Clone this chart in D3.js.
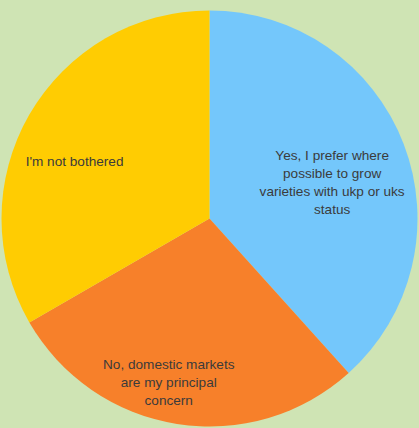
<!DOCTYPE html>
<html>
<head>
<meta charset="utf-8">
<script src="https://cdn.jsdelivr.net/npm/d3@7"></script>
<style>
  html, body { margin: 0; padding: 0; background: #cfe4b4; }
  svg { display: block; }
  .lbl { font-family: "Liberation Sans", Arial, sans-serif; font-size: 13.6px; fill: #3b3b3b; }
</style>
</head>
<body>
<svg id="chart"></svg>
<script>
'use strict'

// answers, in clockwise order from 12 o'clock
const answers = [
    'Yes, I prefer where possible to grow varieties with ukp or uks status',
    'No, domestic markets are my principal concern',
    "I'm not bothered"
]
const counts = [23, 17, 20]
const labelLines = [
    ['Yes, I prefer where', 'possible to grow', 'varieties with ukp or uks', 'status'],
    ['No, domestic markets', 'are my principal', 'concern'],
    ["I'm not bothered"]
]
const colors = ['#74c7fb', '#f7802a', '#ffcc02']

const width = 419, height = 428
const cx = 209.5, cy = 218.5, radius = 208

// label placement: angle nudge (deg) from slice middle and distance as share of radius
const labelNudge = [4.5, 5, -7]
const labelDist = [0.615, 0.81, 0.705]

const svg = d3.select('#chart')
    .attr('width', width)
    .attr('height', height)

const g = svg.append('g')
    .attr('transform', 'translate(' + cx + ',' + cy + ')')

const pie = d3.pie().sort(null).value(d => d)
const arcs = pie(counts)
const arc = d3.arc().innerRadius(0).outerRadius(radius)

g.selectAll('path.slice')
    .data(arcs)
    .enter().append('path')
    .classed('slice', true)
    .attr('d', arc)
    .attr('fill', (d, i) => colors[i])

const lineH = 18.2
arcs.forEach((d, i) => {
    const mid = (d.startAngle + d.endAngle) / 2 + labelNudge[i] * Math.PI / 180
    const r = radius * labelDist[i]
    const x = Math.sin(mid) * r
    const y = -Math.cos(mid) * r
    const lines = labelLines[i]
    const t = g.append('text')
        .classed('lbl', true)
        .attr('text-anchor', 'middle')
        .attr('x', x)
        .attr('y', y - (lines.length - 1) * lineH / 2)
        .attr('dy', '0.35em')
    lines.forEach((s, j) => {
        t.append('tspan')
            .attr('x', x)
            .attr('dy', j === 0 ? '0.35em' : lineH)
            .text(s)
    })
})
</script>
</body>
</html>
